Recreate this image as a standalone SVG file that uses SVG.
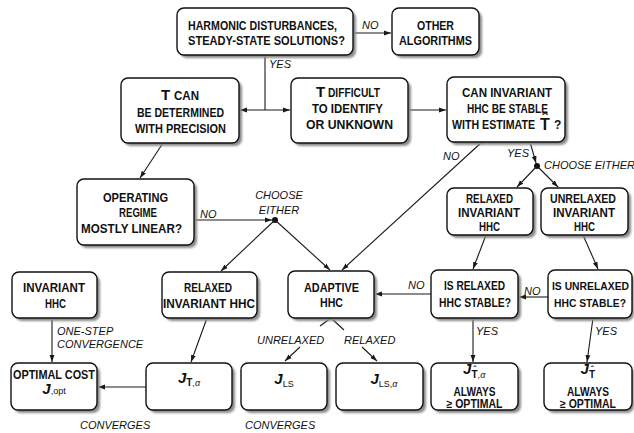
<svg xmlns="http://www.w3.org/2000/svg" width="634" height="433" viewBox="0 0 634 433">
<style>
.sh{fill:#8a8a8a;filter:url(#blur)}
.bx{fill:#fff;stroke:#111;stroke-width:1.4}
.t{font-family:"Liberation Sans",Arial,sans-serif;font-weight:bold;font-size:12px;fill:#111}
.big{font-family:"Liberation Sans",Arial,sans-serif;font-weight:bold;font-size:15px;fill:#111}
.l{font-family:"Liberation Sans",Arial,sans-serif;font-style:italic;font-size:11px;fill:#111}
.j{font-family:"Liberation Sans",Arial,sans-serif;font-weight:bold;font-style:italic;font-size:15px;fill:#111}
.sb{font-style:normal;font-weight:bold;font-size:10px}
.sr{font-style:normal;font-weight:normal;font-size:9px}
.si{font-style:italic;font-weight:normal;font-size:9px}
.hat{font-family:"Liberation Sans",Arial,sans-serif;font-weight:bold;fill:#111;text-anchor:middle}
.m{text-anchor:middle}
.c{fill:none;stroke:#1a1a1a;stroke-width:1.1}
.a{marker-end:url(#ah)}
</style>
<defs>
<filter id="blur" x="-10%" y="-10%" width="120%" height="130%"><feGaussianBlur stdDeviation="1.1"/></filter>
<marker id="ah" viewBox="0 0 10 10" refX="10" refY="5" markerUnits="userSpaceOnUse" markerWidth="7" markerHeight="7" orient="auto-start-reverse">
<path d="M0,1.5 L10,5 L0,8.5 z" fill="#1a1a1a"/>
</marker>
</defs>

<g id="connectors">
<path class="c a" d="M353,33 H391"/>
<path class="c" d="M265,55 V110"/>
<path class="c" d="M240,110 H290" marker-start="url(#ah)" marker-end="url(#ah)"/>
<path class="c a" d="M408,110 H446"/>
<path class="c a" d="M163,143 L140,178"/>
<path class="c a" d="M194,220 H272"/>
<circle cx="275" cy="220" r="3" fill="#111"/>
<path class="c a" d="M275,220 L221,271"/>
<path class="c a" d="M275,220 L330,270"/>
<path class="c a" d="M482,142 L342,270"/>
<path class="c a" d="M530,142 L536,163"/>
<circle cx="537" cy="166" r="3" fill="#111"/>
<path class="c a" d="M537,166 L517,187"/>
<path class="c a" d="M537,166 L558,187"/>
<path class="c a" d="M486,235 L473,269"/>
<path class="c a" d="M583,235 L598,269"/>
<path class="c a" d="M548,297 H519"/>
<path class="c a" d="M431,294 H375"/>
<path class="c a" d="M473,318 V362"/>
<path class="c a" d="M593,318 L587,362"/>
<path class="c a" d="M52,318 V362"/>
<path class="c a" d="M207,318 L191,362"/>
<path class="c a" d="M146,387 H98"/>
<path class="c" d="M320,326 L331,318 L344,330"/>
<path class="c a" d="M300,347 L285,361"/>
<path class="c a" d="M362,347 L377,361"/>
<text class="l" x="362" y="29">NO</text>
<text class="l" x="269" y="68">YES</text>
<text class="l" x="200" y="218">NO</text>
<text class="l m" x="279" y="199">CHOOSE</text>
<text class="l m" x="279" y="214">EITHER</text>
<text class="l" x="443" y="160">NO</text>
<text class="l" x="507" y="157">YES</text>
<text class="l" x="544" y="169">CHOOSE EITHER</text>
<text class="l" x="524" y="295">NO</text>
<text class="l" x="408" y="289">NO</text>
<text class="l" x="476" y="335">YES</text>
<text class="l" x="595" y="335">YES</text>
<text class="l" x="57" y="335">ONE-STEP</text>
<text class="l" x="57" y="348">CONVERGENCE</text>
<text class="l" x="257" y="344">UNRELAXED</text>
<text class="l" x="344" y="344">RELAXED</text>
<text class="l" x="80" y="429">CONVERGES</text>
<text class="l" x="245" y="429">CONVERGES</text>
</g>

<g id="n-harmonic">
<rect class="sh" x="180" y="11" width="176" height="47" rx="7"/>
<rect class="bx" x="177" y="8" width="176" height="47" rx="7"/>
<text class="t" x="188" y="30" textLength="149" lengthAdjust="spacingAndGlyphs">HARMONIC DISTURBANCES,</text>
<text class="t" x="188" y="45" textLength="157" lengthAdjust="spacingAndGlyphs">STEADY-STATE  SOLUTIONS?</text>
</g>

<g id="n-other">
<rect class="sh" x="395" y="11" width="87" height="47" rx="7"/>
<rect class="bx" x="392" y="8" width="87" height="47" rx="7"/>
<text class="t" x="417" y="30" textLength="37" lengthAdjust="spacingAndGlyphs">OTHER</text>
<text class="t" x="399" y="45" textLength="73" lengthAdjust="spacingAndGlyphs">ALGORITHMS</text>
</g>

<g id="n-tcan">
<rect class="sh" x="124" y="81" width="118" height="65" rx="7"/>
<rect class="bx" x="121" y="78" width="118" height="65" rx="7"/>
<text class="big" x="161" y="100">T</text>
<text class="t" x="174" y="100" textLength="25" lengthAdjust="spacingAndGlyphs">CAN</text>
<text class="t" x="137" y="117" textLength="87" lengthAdjust="spacingAndGlyphs">BE DETERMINED</text>
<text class="t" x="135" y="133" textLength="91" lengthAdjust="spacingAndGlyphs">WITH PRECISION</text>
</g>

<g id="n-tdiff">
<rect class="sh" x="294" y="81" width="117" height="65" rx="7"/>
<rect class="bx" x="291" y="78" width="117" height="65" rx="7"/>
<text class="big" x="316" y="97">T</text>
<text class="t" x="328" y="97" textLength="52" lengthAdjust="spacingAndGlyphs">DIFFICULT</text>
<text class="t" x="312" y="113" textLength="71" lengthAdjust="spacingAndGlyphs">TO IDENTIFY</text>
<text class="t" x="306" y="129" textLength="87" lengthAdjust="spacingAndGlyphs">OR UNKNOWN</text>
</g>

<g id="n-caninv">
<rect class="sh" x="450" y="80" width="118" height="65" rx="7"/>
<rect class="bx" x="447" y="77" width="118" height="65" rx="7"/>
<text class="t" x="462" y="97" textLength="90" lengthAdjust="spacingAndGlyphs">CAN INVARIANT</text>
<text class="t" x="467" y="113" textLength="81" lengthAdjust="spacingAndGlyphs">HHC BE STABLE</text>
<text class="t" x="452" y="129" textLength="83" lengthAdjust="spacingAndGlyphs">WITH ESTIMATE</text>
<text class="big" x="540" y="130" style="font-size:16px">T</text>
<text class="hat" x="545" y="125" style="font-size:16px">ˆ</text>
<text class="t" x="554" y="129">?</text>
</g>

<g id="n-oper">
<rect class="sh" x="80" y="182" width="117" height="66" rx="7"/>
<rect class="bx" x="77" y="179" width="117" height="66" rx="7"/>
<text class="t" x="103" y="202" textLength="65" lengthAdjust="spacingAndGlyphs">OPERATING</text>
<text class="t" x="119" y="217" textLength="38" lengthAdjust="spacingAndGlyphs">REGIME</text>
<text class="t" x="81" y="233" textLength="101" lengthAdjust="spacingAndGlyphs">MOSTLY LINEAR?</text>
</g>

<g id="n-relinv-r">
<rect class="sh" x="450" y="191" width="86" height="47" rx="7"/>
<rect class="bx" x="447" y="188" width="86" height="47" rx="7"/>
<text class="t" x="466" y="203" textLength="47" lengthAdjust="spacingAndGlyphs">RELAXED</text>
<text class="t" x="458" y="217" textLength="62" lengthAdjust="spacingAndGlyphs">INVARIANT</text>
<text class="t" x="479" y="231" textLength="21" lengthAdjust="spacingAndGlyphs">HHC</text>
</g>

<g id="n-unrelinv">
<rect class="sh" x="544" y="191" width="87" height="47" rx="7"/>
<rect class="bx" x="541" y="188" width="87" height="47" rx="7"/>
<text class="t" x="550" y="203" textLength="66" lengthAdjust="spacingAndGlyphs">UNRELAXED</text>
<text class="t" x="553" y="217" textLength="62" lengthAdjust="spacingAndGlyphs">INVARIANT</text>
<text class="t" x="574" y="231" textLength="21" lengthAdjust="spacingAndGlyphs">HHC</text>
</g>

<g id="n-invhhc">
<rect class="sh" x="15" y="275" width="85" height="46" rx="7"/>
<rect class="bx" x="12" y="272" width="85" height="46" rx="7"/>
<text class="t" x="23" y="292" textLength="62" lengthAdjust="spacingAndGlyphs">INVARIANT</text>
<text class="t" x="45" y="308" textLength="21" lengthAdjust="spacingAndGlyphs">HHC</text>
</g>

<g id="n-relinv-m">
<rect class="sh" x="165" y="275" width="95" height="46" rx="7"/>
<rect class="bx" x="162" y="272" width="95" height="46" rx="7"/>
<text class="t" x="184" y="292" textLength="48" lengthAdjust="spacingAndGlyphs">RELAXED</text>
<text class="t" x="163" y="308" textLength="92" lengthAdjust="spacingAndGlyphs">INVARIANT HHC</text>
</g>

<g id="n-adaptive">
<rect class="sh" x="291" y="274" width="86" height="47" rx="7"/>
<rect class="bx" x="288" y="271" width="86" height="47" rx="7"/>
<text class="t" x="304" y="292" textLength="55" lengthAdjust="spacingAndGlyphs">ADAPTIVE</text>
<text class="t" x="320" y="307" textLength="23" lengthAdjust="spacingAndGlyphs">HHC</text>
</g>

<g id="n-isrel">
<rect class="sh" x="434" y="273" width="87" height="48" rx="7"/>
<rect class="bx" x="431" y="270" width="87" height="48" rx="7"/>
<text class="t" x="444" y="290" textLength="61" lengthAdjust="spacingAndGlyphs">IS RELAXED</text>
<text class="t" x="439" y="307" textLength="72" lengthAdjust="spacingAndGlyphs">HHC STABLE?</text>
</g>

<g id="n-isunrel">
<rect class="sh" x="551" y="273" width="83" height="48" rx="7"/>
<rect class="bx" x="548" y="270" width="84" height="48" rx="7"/>
<text class="t" x="552" y="290" textLength="77" lengthAdjust="spacingAndGlyphs" style="font-size:11px">IS UNRELAXED</text>
<text class="t" x="554" y="307" textLength="72" lengthAdjust="spacingAndGlyphs" style="font-size:11px">HHC STABLE?</text>
</g>

<g id="n-optimal">
<rect class="sh" x="14" y="366" width="86" height="47" rx="7"/>
<rect class="bx" x="11" y="363" width="86" height="47" rx="7"/>
<text class="t" x="13" y="379" textLength="82" lengthAdjust="spacingAndGlyphs">OPTIMAL COST</text>
<text class="j m" x="54" y="394">J<tspan class="sr">,opt</tspan></text>
</g>

<g id="n-jta">
<rect class="sh" x="149" y="366" width="86" height="47" rx="7"/>
<rect class="bx" x="146" y="363" width="86" height="47" rx="7"/>
<text class="j m" x="189" y="383">J<tspan class="sb" dy="3">T</tspan><tspan class="si">,α</tspan></text>
</g>

<g id="n-jls">
<rect class="sh" x="244" y="366" width="86" height="47" rx="7"/>
<rect class="bx" x="241" y="363" width="86" height="47" rx="7"/>
<text class="j m" x="284" y="384">J<tspan class="sr" dy="3">LS</tspan></text>
</g>

<g id="n-jlsa">
<rect class="sh" x="339" y="366" width="87" height="47" rx="7"/>
<rect class="bx" x="336" y="363" width="87" height="47" rx="7"/>
<text class="j m" x="384" y="384">J<tspan class="sr" dy="3">LS,</tspan><tspan class="si">α</tspan></text>
</g>

<g id="n-jtha">
<rect class="sh" x="434" y="366" width="87" height="47" rx="7"/>
<rect class="bx" x="431" y="363" width="87" height="47" rx="7"/>
<text class="j" x="463" y="374">J</text>
<text class="j sb" x="471.6" y="378">T</text>
<text class="hat" x="474.7" y="372" style="font-size:9px">ˆ</text>
<text class="j si" x="477.7" y="378">,α</text>
<text class="t m" x="474.5" y="396" textLength="42" lengthAdjust="spacingAndGlyphs">ALWAYS</text>
<text class="t m" x="474.5" y="408" textLength="56" lengthAdjust="spacingAndGlyphs">≥ OPTIMAL</text>
</g>

<g id="n-jth">
<rect class="sh" x="547" y="366" width="87" height="47" rx="7"/>
<rect class="bx" x="544" y="363" width="88" height="47" rx="7"/>
<text class="j" x="580.5" y="374">J</text>
<text class="j sb" x="589.1" y="378">T</text>
<text class="hat" x="592.2" y="372" style="font-size:9px">ˆ</text>
<text class="t m" x="588" y="396" textLength="42" lengthAdjust="spacingAndGlyphs">ALWAYS</text>
<text class="t m" x="588" y="408" textLength="56" lengthAdjust="spacingAndGlyphs">≥ OPTIMAL</text>
</g>
</svg>
